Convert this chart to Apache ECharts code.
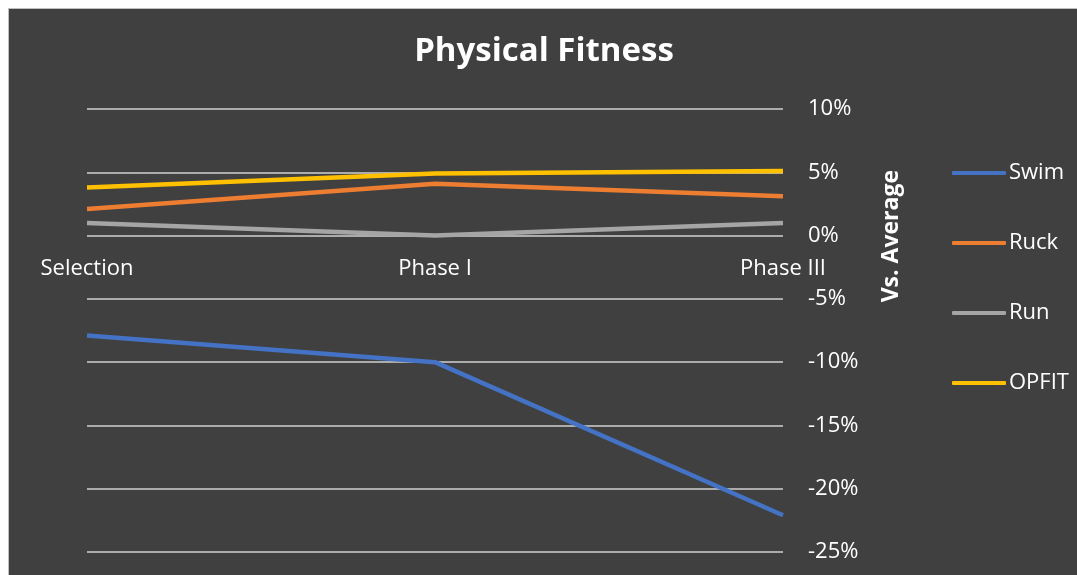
<!DOCTYPE html>
<html>
<head>
<meta charset="utf-8">
<script src="https://cdn.jsdelivr.net/npm/echarts@6/dist/echarts.min.js"></script>
<style>
  html, body { margin: 0; padding: 0; background: #ffffff; width: 1077px; height: 575px; overflow: hidden; }
  #frame { position: absolute; left: 8px; top: 8px; width: 1069px; height: 567px; background: #404040; border-left: 1px solid #bfbfbf; border-top: 1px solid #bfbfbf; }
  #chart { position: absolute; left: 1px; top: 1px; width: 1068px; height: 566px; }
</style>
</head>
<body>
<div id="frame"><div id="chart"></div></div>
<script>
const categories = ['Selection', 'Phase I', 'Phase III'];
const swim  = [-7.9, -10.0, -22.1];
const ruck  = [2.1, 4.1, 3.1];
const run   = [1.0, 0.0, 1.0];
const opfit = [3.8, 4.9, 5.1];
const yTicks = { min: -25, max: 10, interval: 5 };

const FONT = 'Open Sans';
const TXT = '#ffffff';

const chart = echarts.init(document.getElementById('chart'), null, { renderer: 'canvas' });

function mk(name, data, color) {
  return {
    name: name, type: 'line', data: data,
    showSymbol: false, symbol: 'none',
    lineStyle: { color: color, width: 4.5 },
    itemStyle: { color: color },
    z: 3
  };
}

chart.setOption({
  backgroundColor: '#404040',
  animation: false,
  title: {
    text: 'Physical Fitness',
    left: 'center', top: 20,
    textStyle: { color: TXT, fontFamily: FONT, fontWeight: 'bold', fontSize: 33 }
  },
  legend: {
    orient: 'vertical',
    left: 942, top: 152,
    padding: 0,
    itemWidth: 54, itemHeight: 4,
    itemGap: 48,
    icon: 'roundRect',
    textStyle: { color: TXT, fontFamily: FONT, fontSize: 22, lineHeight: 22, padding: [0, 0, 0, -2] },
    data: ['Swim', 'Ruck', 'Run', 'OPFIT']
  },
  grid: { left: 77, right: 295, top: 99, bottom: 24, containLabel: false, outerBoundsMode: 'none' },
  xAxis: {
    type: 'category',
    data: categories,
    boundaryGap: false,
    position: 'bottom',
    offset: -317,
    axisLine: { show: false, onZero: false },
    axisTick: { show: false },
    axisLabel: { color: TXT, fontFamily: FONT, fontSize: 22, margin: 23, interval: 0 },
    splitLine: { show: false }
  },
  yAxis: {
    type: 'value',
    position: 'right',
    min: yTicks.min, max: yTicks.max, interval: yTicks.interval,
    axisLine: { show: false },
    axisTick: { show: false },
    axisLabel: { color: TXT, fontFamily: FONT, fontSize: 22, margin: 25, formatter: v => v + '%' },
    splitLine: { show: true, lineStyle: { color: '#d0d0d0', width: 1.5 } }
  },
  graphic: [{
    type: 'text',
    left: 870, top: 160,
    rotation: Math.PI / 2,
    style: { text: 'Vs. Average', fill: TXT, font: 'bold 23px "Open Sans"' }
  }],
  series: [
    mk('Swim', swim, '#4472C4'),
    mk('Ruck', ruck, '#ED7D31'),
    mk('Run', run, '#A5A5A5'),
    mk('OPFIT', opfit, '#FFC000')
  ]
});
</script>
</body>
</html>
